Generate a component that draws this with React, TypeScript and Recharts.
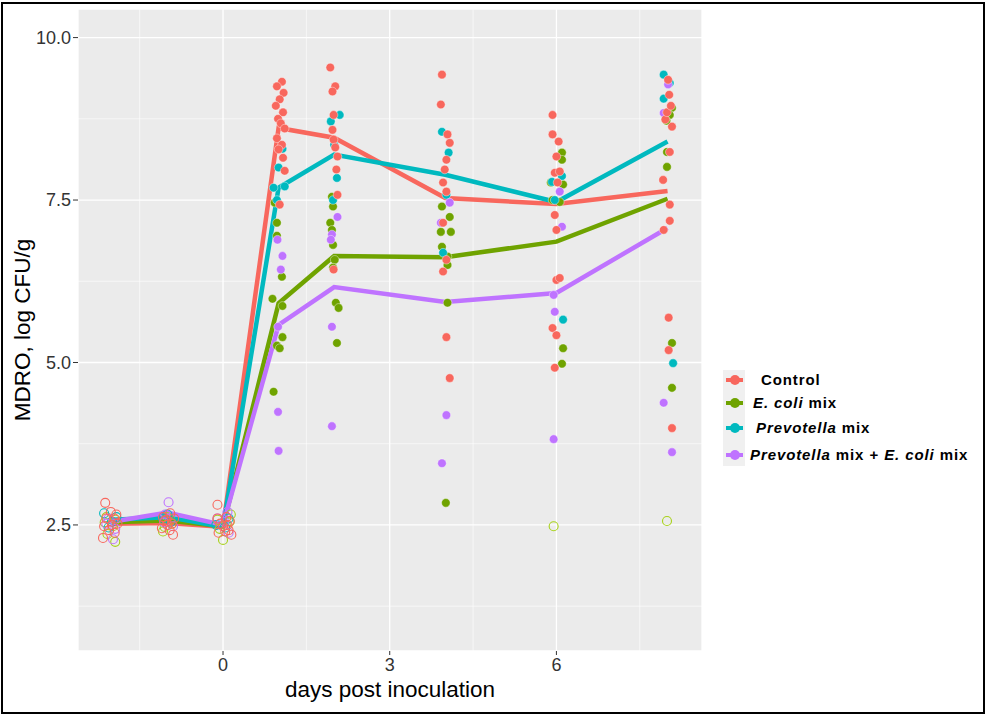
import React from "react"
import {
  ComposedChart, Line, Scatter, XAxis, YAxis, CartesianGrid, ReferenceLine,
} from "recharts"

const FONT = '"Liberation Sans", Arial, sans-serif'

const COLORS = ["#F8675D", "#6FA300", "#00B9BF", "#BF73FF"]

const days = [-2, -1, 0, 1, 2, 4, 6, 8]
const controlMean = [2.52, 2.53, 2.47, 8.61, 8.46, 7.53, 7.44, 7.64]
const ecoliMean = [2.54, 2.57, 2.48, 5.91, 6.64, 6.62, 6.86, 7.52]
const prevotellaMean = [2.58, 2.62, 2.47, 7.69, 8.2, 7.89, 7.47, 8.4]
const comboMean = [2.55, 2.69, 2.5, 5.58, 6.16, 5.93, 6.07, 7.07]

// hollow points (baseline / detection limit), [jittered day, log CFU]
const controlOpen = [
  [-2.12, 2.84], [-2.16, 2.3], [-1.96, 2.6], [-2.05, 2.42], [-1.9, 2.52], [-2.02, 2.7],
  [-2.1, 2.6], [-1.95, 2.38], [-2.0, 2.5], [-2.14, 2.48], [-1.92, 2.66],
  [-0.9, 2.35], [-1.06, 2.56], [-0.95, 2.68], [-1.1, 2.45], [-0.88, 2.6],
  [-1.0, 2.5], [-0.96, 2.42], [-1.08, 2.62], [-0.92, 2.52], [-1.02, 2.58],
  [-0.1, 2.81], [0.15, 2.35], [-0.05, 2.52], [0.06, 2.62], [0.1, 2.42], [-0.08, 2.38],
  [0.0, 2.48], [0.12, 2.56], [-0.1, 2.6], [0.04, 2.4], [0.08, 2.5],
]
const ecoliOpen = [
  [-1.94, 2.24], [-2.1, 2.62], [-1.98, 2.48], [-2.08, 2.36], [-2.13, 2.54], [-1.93, 2.58],
  [-1.05, 2.47], [-0.92, 2.52], [-1.0, 2.62], [-1.08, 2.4], [-0.95, 2.58],
  [0.0, 2.27], [0.12, 2.55], [-0.06, 2.44], [0.14, 2.66], [0.05, 2.5], [-0.1, 2.58],
  [5.95, 2.48], [7.99, 2.56],
]
const prevotellaOpen = [
  [-2.14, 2.68], [-2.0, 2.55], [-1.92, 2.62], [-2.06, 2.46],
  [-1.08, 2.6], [-0.94, 2.55], [-1.0, 2.66],
  [-0.12, 2.5], [0.04, 2.46], [0.1, 2.6],
]
const comboOpen = [
  [-2.1, 2.52], [-1.98, 2.28], [-2.06, 2.6], [-1.94, 2.44],
  [-0.98, 2.85], [-1.04, 2.66], [-0.9, 2.48], [-1.06, 2.54],
  [0.02, 2.55], [-0.1, 2.6], [0.1, 2.38], [0.08, 2.7],
]

const controlFilled = [
  [1.06, 9.32], [0.97, 9.25], [1.09, 9.15], [1.02, 9.05], [0.95, 8.95], [1.08, 8.85],
  [0.99, 8.75], [1.04, 8.68], [1.11, 8.6], [0.97, 8.45], [1.06, 8.35], [1.0, 8.28],
  [1.08, 8.15], [1.11, 7.95], [1.02, 7.43],
  [1.93, 9.54], [2.02, 9.25], [1.97, 9.17], [1.99, 8.81], [1.97, 8.58], [1.99, 8.43],
  [2.02, 8.31], [2.06, 8.17], [2.04, 7.97], [2.06, 7.58], [1.99, 6.43],
  [3.94, 9.43], [3.92, 8.97], [4.04, 8.51], [4.08, 8.38], [4.02, 8.12], [3.99, 7.97],
  [3.96, 7.77], [4.02, 7.63], [3.96, 7.15], [4.02, 6.58], [3.96, 6.4], [4.02, 5.39], [4.08, 4.76],
  [5.93, 8.81], [5.93, 8.51], [6.04, 8.4], [6.0, 8.17], [5.97, 7.92], [6.06, 7.94],
  [6.02, 7.77], [5.97, 7.27], [6.0, 7.04], [6.0, 6.27], [6.06, 6.3], [5.93, 5.53],
  [6.0, 5.42], [5.97, 4.92],
  [8.01, 9.35], [8.03, 9.12], [7.96, 8.74], [8.08, 8.63], [7.99, 8.85], [8.06, 8.95],
  [8.04, 8.24], [7.92, 7.81], [8.04, 7.43], [8.04, 7.18], [7.93, 7.04], [8.02, 5.69],
  [8.02, 5.19], [8.08, 3.99],
]
const ecoliFilled = [
  [0.93, 7.46], [0.97, 7.15], [0.97, 6.95], [1.06, 6.32], [0.89, 5.98], [1.07, 5.87],
  [1.07, 5.39], [0.97, 5.26], [1.02, 5.22], [0.91, 4.55],
  [1.96, 7.55], [1.98, 7.4], [1.93, 7.15], [1.96, 7.04], [1.98, 6.81], [2.01, 6.58],
  [1.98, 6.46], [2.03, 5.92], [2.08, 5.84], [2.05, 5.3],
  [3.94, 7.4], [4.08, 7.24], [3.92, 7.01], [4.1, 7.01], [3.94, 6.78], [4.04, 6.63],
  [4.04, 6.5], [4.04, 5.92], [4.01, 2.84],
  [6.1, 8.23], [6.1, 8.12], [5.9, 7.77], [6.12, 7.74], [5.93, 7.5], [6.06, 7.47],
  [6.12, 5.22], [6.1, 4.98],
  [8.08, 8.92], [8.04, 8.81], [7.98, 8.72], [7.99, 8.24], [7.99, 8.01], [8.08, 5.3], [8.08, 4.61],
]
const prevotellaFilled = [
  [1.07, 8.29], [1.0, 8.0], [0.91, 7.69], [1.11, 7.71], [0.97, 7.5],
  [2.1, 8.81], [1.94, 8.71], [2.05, 7.84], [1.98, 7.5], [2.0, 8.35],
  [3.94, 8.55], [4.06, 8.23], [4.02, 7.58], [3.96, 6.69],
  [5.92, 7.78], [6.1, 7.87], [6.12, 5.66], [5.97, 7.5],
  [7.93, 9.43], [7.93, 9.06], [8.1, 4.99], [8.04, 9.3],
]
const comboFilled = [
  [0.98, 6.89], [1.07, 6.64], [1.04, 6.43], [0.99, 5.55], [0.99, 4.24], [1.0, 3.64],
  [2.06, 7.24], [1.96, 6.97], [1.94, 6.89], [1.96, 5.55], [1.96, 4.02],
  [4.08, 7.46], [3.92, 7.15], [4.02, 4.19], [3.94, 3.45],
  [6.06, 7.63], [6.1, 7.09], [5.95, 6.04], [5.97, 5.78], [5.95, 3.82],
  [8.01, 9.28], [7.93, 8.84], [7.93, 4.38], [8.08, 3.62],
]

const yTicks = [2.5, 5, 7.5, 10]
const yMinor = [1.25, 3.75, 6.25, 8.75]
const xTicks = [0, 3, 6]
const xMinor = [-1.5, 1.5, 4.5, 7.5]

const toPts = (arr: number[][]) => arr.map(([x, y]) => ({ x, y }))
const toLine = (vals: number[]) => days.map((d, i) => ({ x: d, y: vals[i] }))

const means = [controlMean, ecoliMean, prevotellaMean, comboMean]
const filled = [controlFilled, ecoliFilled, prevotellaFilled, comboFilled]
const open = [controlOpen, ecoliOpen, prevotellaOpen, comboOpen]
const drawOrder = [1, 2, 3, 0]

function Legend() {
  const labels = [
    <span>Control</span>,
    <span><i>E. coli</i> mix</span>,
    <span><i>Prevotella</i> mix</span>,
    <span><i>Prevotella</i> mix + <i>E. coli</i> mix</span>,
  ]
  const rows = [380, 403, 428, 455]
  const textX = [761, 753, 756, 750]
  return (
    <>
      <div style={{ position: "absolute", left: 723, top: 370, width: 22, height: 96, background: "#F0F0F0" }} />
      {labels.map((l, i) => (
        <React.Fragment key={i}>
          <div style={{ position: "absolute", left: 726, top: rows[i] - 2, width: 17, height: 4, background: COLORS[i] }} />
          <div style={{ position: "absolute", left: 729.5, top: rows[i] - 5, width: 10, height: 10, borderRadius: "50%", background: COLORS[i] }} />
          <div style={{
            position: "absolute", left: textX[i], top: rows[i] - 9, fontFamily: FONT, fontWeight: "bold",
            fontSize: 15, letterSpacing: "0.9px", lineHeight: "18px", color: "#000", whiteSpace: "pre",
          }}>{l}</div>
        </React.Fragment>
      ))}
    </>
  )
}

export default function App() {
  return (
    <div style={{ position: "absolute", left: 0, top: 0, width: 986, height: 715, background: "#fff" }}>
      <ComposedChart
        width={986}
        height={715}
        margin={{ top: 9, right: 284, bottom: 0, left: 0 }}
        style={{ fontFamily: FONT }}
      >
        <CartesianGrid fill="#EBEBEB" fillOpacity={1} stroke="#fff" strokeWidth={1.3} />
        {yMinor.map((v) => (
          <ReferenceLine key={"y" + v} y={v} stroke="#fff" strokeWidth={0.6} />
        ))}
        {xMinor.map((v) => (
          <ReferenceLine key={"x" + v} x={v} stroke="#fff" strokeWidth={0.6} />
        ))}
        <XAxis
          type="number"
          dataKey="x"
          domain={[-2.61, 8.62]}
          ticks={xTicks}
          allowDataOverflow
          axisLine={false}
          tickLine={{ stroke: "#333" }}
          tickSize={4}
          tickMargin={3}
          height={64}
          tick={{ fill: "#333", fontSize: 18, fontFamily: FONT }}
          label={{ value: "days post inoculation", position: "insideBottom", offset: 18, fill: "#000", fontSize: 22.5, fontFamily: FONT }}
        />
        <YAxis
          type="number"
          dataKey="y"
          domain={[0.56, 10.44]}
          ticks={yTicks}
          allowDataOverflow
          axisLine={false}
          tickLine={{ stroke: "#333" }}
          tickSize={5}
          tickMargin={2}
          width={78}
          tickFormatter={(v: number) => v.toFixed(1)}
          tick={{ fill: "#333", fontSize: 18, fontFamily: FONT }}
          label={{ value: "MDRO, log CFU/g", angle: -90, position: "insideLeft", offset: 22, fill: "#000", fontSize: 22.5, fontFamily: FONT, style: { textAnchor: "middle" } }}
        />
        {means.map((m, i) => (
          <Line
            key={"l" + i}
            data={toLine(m)}
            dataKey="y"
            type="linear"
            stroke={COLORS[i]}
            strokeWidth={4.5}
            dot={false}
            activeDot={false}
            isAnimationActive={false}
          />
        ))}
        {drawOrder.map((i) => (
          <Scatter
            key={"o" + i}
            data={toPts(open[i])}
            isAnimationActive={false}
            shape={(p: any) => (
              <circle cx={p.cx} cy={p.cy} r={4.5} fill="none" stroke={i === 1 ? "#A8D21A" : COLORS[i]} strokeWidth={1.1} />
            )}
          />
        ))}
        {drawOrder.map((i) => (
          <Scatter
            key={"f" + i}
            data={toPts(filled[i])}
            isAnimationActive={false}
            shape={(p: any) => (
              <circle cx={p.cx} cy={p.cy} r={4.3} fill={COLORS[i]} stroke="#fff" strokeOpacity={0.5} strokeWidth={0.8} />
            )}
          />
        ))}
      </ComposedChart>
      <Legend />
      <div style={{
        position: "absolute", left: 1, top: 2, width: 980, height: 708,
        border: "2px solid #000", pointerEvents: "none",
      }} />
    </div>
  )
}
